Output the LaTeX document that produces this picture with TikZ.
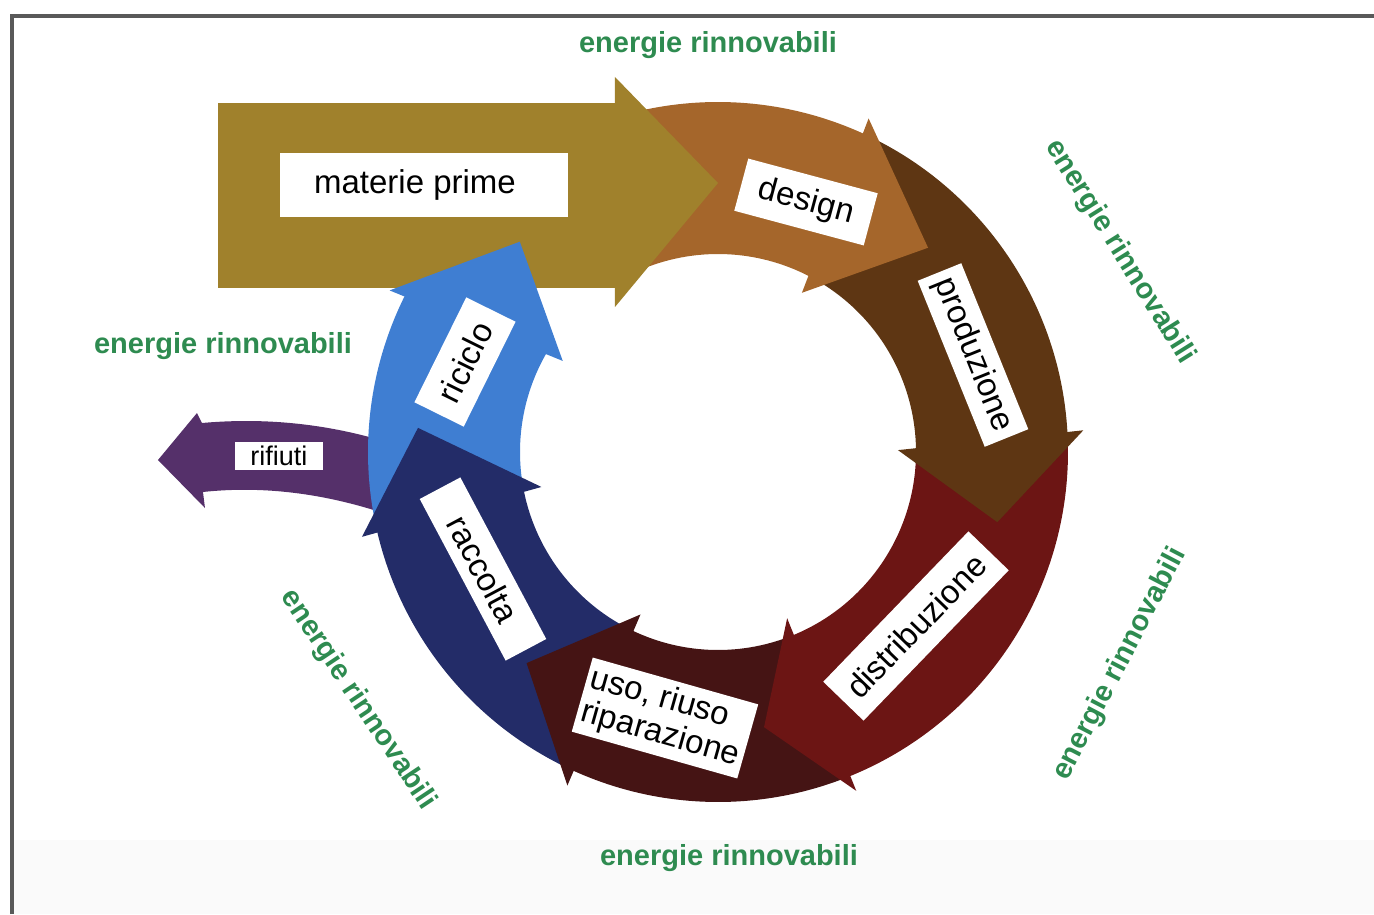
\documentclass[tikz,border=0pt]{standalone}
\usepackage{fontspec}
\setmainfont{Liberation Sans}

\definecolor{materie}{HTML}{A0812C}
\definecolor{designcol}{HTML}{A5662B}
\definecolor{prodcol}{HTML}{5E3613}
\definecolor{distcol}{HTML}{6C1514}
\definecolor{usocol}{HTML}{451414}
\definecolor{raccol}{HTML}{232C68}
\definecolor{riccol}{HTML}{3F7ED2}
\definecolor{rifcol}{HTML}{55306A}
\definecolor{verde}{HTML}{2E8B50}

\begin{document}
\begin{tikzpicture}[x=1pt, y=1pt,
    box/.style={fill=white, inner sep=0pt, font=\fontsize{33}{35}\selectfont},
    energia/.style={text=verde, inner sep=0pt, font=\fontsize{29}{32}\selectfont\bfseries}]
    \useasboundingbox (-718,-462) rectangle (656,452);

    % frame
    \fill[black!2] (-704,-462) rectangle (656,-388);
    \draw[black!65, line width=4pt] (-706,-462) -- (-706,436) -- (656,436);

    % ring bodies (centre at origin)
    \fill[designcol] (110:350) arc[start angle=110, end angle=64.2, radius=350] -- (60.7:198) arc[start angle=60.7, end angle=112, radius=198] -- cycle;
    \fill[materie] (-500,349) rectangle (-103,164);
    \fill[rifcol] (-338,12) .. controls (-400,30) and (-460,34) .. (-516,29) -- (-521,39) -- (-560,-8) -- (-513,-56) -- (-515,-40) .. controls (-460,-34) and (-400,-40) .. (-338,-60) -- cycle;
    \fill[prodcol] (64.7:350) arc[start angle=64.7, end angle=1.9, radius=350] -- (-0.9:198) arc[start angle=-0.9, end angle=61.2, radius=198] -- cycle;
    \fill[distcol] (2.4:350) arc[start angle=2.4, end angle=-69.3, radius=350] -- (-68.9:198) arc[start angle=-68.9, end angle=-0.4, radius=198] -- cycle;
    \fill[usocol] (-68.8:350) arc[start angle=-68.8, end angle=-115.8, radius=350] -- (-117:198) arc[start angle=-117, end angle=-68.4, radius=198] -- cycle;
    \fill[raccol] (-115.3:350) arc[start angle=-115.3, end angle=-168.1, radius=350] -- (-170.3:198) arc[start angle=-170.3, end angle=-116.5, radius=198] -- cycle;
    \fill[riccol] (-167.6:350) arc[start angle=-167.6, end angle=-207.7, radius=350] -- (-211.9:198) arc[start angle=-211.9, end angle=-169.8, radius=198] -- cycle;

    % arrow heads
    \fill[designcol] (65.7:366) -- (44.2:293) -- (62.2:180) -- cycle;
    \fill[prodcol] (3.4:366) -- (-14.1:288) -- (0.6:180) -- cycle;
    \fill[distcol] (-67.8:366) -- (-80.5:279) -- (-67.4:180) -- cycle;
    \fill[usocol] (-114.3:366) -- (-132.2:285) -- (-115.5:180) -- cycle;
    \fill[raccol] (-166.6:366) -- (-184.6:301) -- (-168.8:180) -- cycle;
    \fill[riccol] (-206.2:366) -- (-226.7:289) -- (-210.4:180) -- cycle;
    \fill[materie] (-103,375) -- (0,269) -- (-103,145) -- cycle;

    % labels
    \node[box, minimum width=288, minimum height=64] (materie) at (-294,267) {\hspace*{-18pt}materie prime};
    \node[box, minimum width=134, minimum height=54, rotate=-15] (design) at (88,250) {design};
    \node[box, minimum width=179, minimum height=47, rotate=-68] (produzione) at (255,97) {produzione};
    \node[box, minimum width=209, minimum height=56, rotate=46] (distribuzione) at (198,-174) {distribuzione};
    \node[box, minimum width=172, minimum height=77, rotate=-15.8, align=left] (uso) at (-53,-266) {uso, riuso\\riparazione};
    \node[box, minimum width=183, minimum height=46, rotate=-62] (raccolta) at (-235,-117) {raccolta};
    \node[box, minimum width=117, minimum height=55, rotate=63.7] (riciclo) at (-253,90) {riciclo};
    \node[box, minimum width=88, minimum height=28, font=\fontsize{27}{29}\selectfont] (rifiuti) at (-439,-4) {rifiuti};

    \node[energia] (en top) at (-10,407) {energie rinnovabili};
    \node[energia, rotate=-58] (en ne) at (402,200) {energie rinnovabili};
    \node[energia, rotate=62.6] (en se) at (402,-212) {energie rinnovabili};
    \node[energia] (en bottom) at (11,-406) {energie rinnovabili};
    \node[energia, rotate=-56.3] (en sw) at (-360,-248) {energie rinnovabili};
    \node[energia] (en west) at (-495,106) {energie rinnovabili};
\end{tikzpicture}
\end{document}
